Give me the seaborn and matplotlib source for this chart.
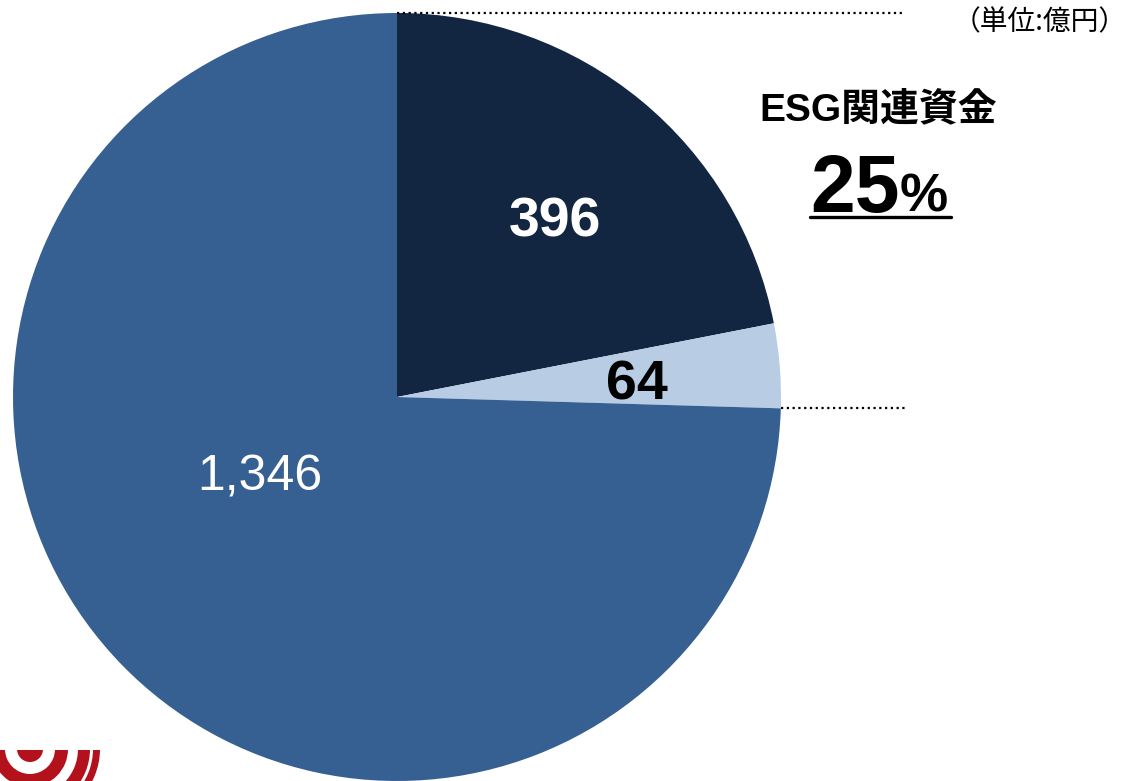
import numpy as np
import matplotlib
matplotlib.use("Agg")
import matplotlib.pyplot as plt
from matplotlib.patches import Wedge, Circle
import seaborn as sns

# data (億円)
labels = ["ESG関連 396", "ESG関連 64", "その他 1,346"]
values = [396, 64, 1346]
value_text = ["396", "64", "1,346"]
colors = ["#122541", "#b8cce4", "#376092"]
text_colors = ["white", "black", "white"]
text_weights = ["bold", "bold", "normal"]
text_sizes = [40, 40, 36]
esg_title = "ESG関連資金"
esg_share = "25"
unit_text = "（単位:億円）"

sns.set_theme(style="white")
plt.rcParams["font.family"] = ["Liberation Sans", "Noto Sans CJK JP", "DejaVu Sans"]
plt.rcParams["text.color"] = "black"

W, H = 1129, 781
fig = plt.figure(figsize=(W / 100, H / 100), dpi=100)
fig.patch.set_facecolor("white")

# pie axes: center (397,397) px, radius 384 px
ax = fig.add_axes([13 / W, 0 / H, 768 / W, 768 / H])
wedges, _ = ax.pie(values, colors=colors, startangle=90, counterclock=False,
                   wedgeprops=dict(linewidth=0))
ax.set_xlim(-1, 1)
ax.set_ylim(-1, 1)
ax.set_aspect("equal")
ax.axis("off")

# label positions (data units of the pie axes)
label_pos = [(0.41, 0.455), (0.625, 0.03), (-0.357, -0.21)]
for (x, y), t, c, w, s in zip(label_pos, value_text, text_colors, text_weights, text_sizes):
    ax.text(x, y, t, color=c, fontsize=s, fontweight=w, ha="center", va="center")

# dotted guide lines at the ESG wedge edges
total = sum(values)
esg_frac = (values[0] + values[1]) / total
ang = np.deg2rad(90 - 360 * esg_frac)
ax.plot([0, 1.323], [1, 1], ls=(0, (1, 1.6)), color="black", lw=1.6, clip_on=False)
ax.plot([np.cos(ang), 1.328], [np.sin(ang), np.sin(ang)], ls=(0, (1, 1.6)),
        color="black", lw=1.6, clip_on=False)

# texts on the right
fig.text(1127 / W, 1 - 22 / H, unit_text, ha="right", va="center", fontsize=20,
         color="black", family=["Noto Sans CJK JP", "DejaVu Sans"])
fig.text(878 / W, 1 - 110 / H, esg_title, ha="center", va="center", fontsize=28,
         fontweight="bold", color="black")
fig.text(900 / W, 1 - 212 / H, esg_share, ha="right", va="baseline", fontsize=58,
         fontweight="bold", color="black")
fig.text(900 / W, 1 - 212 / H, "%", ha="left", va="baseline", fontsize=39,
         fontweight="bold", color="black")
fig.add_artist(plt.Line2D([810 / W, 951 / W], [1 - 217 / H, 1 - 217 / H],
                          color="black", lw=2.4))

# red ring logo at bottom left (clipped)
lax = fig.add_axes([0, 0, 110 / W, 31 / H])
lax.set_xlim(0, 110)
lax.set_ylim(781, 750)
lax.axis("off")
red = "#b3111b"
lax.add_patch(Circle((30, 749), 13, color=red, lw=0))
for r_out, width in [(38, 13), (60, 12), (70, 7)]:
    lax.add_patch(Wedge((30, 749), r_out, 0, 360, width=width, color=red, lw=0))

fig.savefig("out.png", dpi=100, facecolor="white")
